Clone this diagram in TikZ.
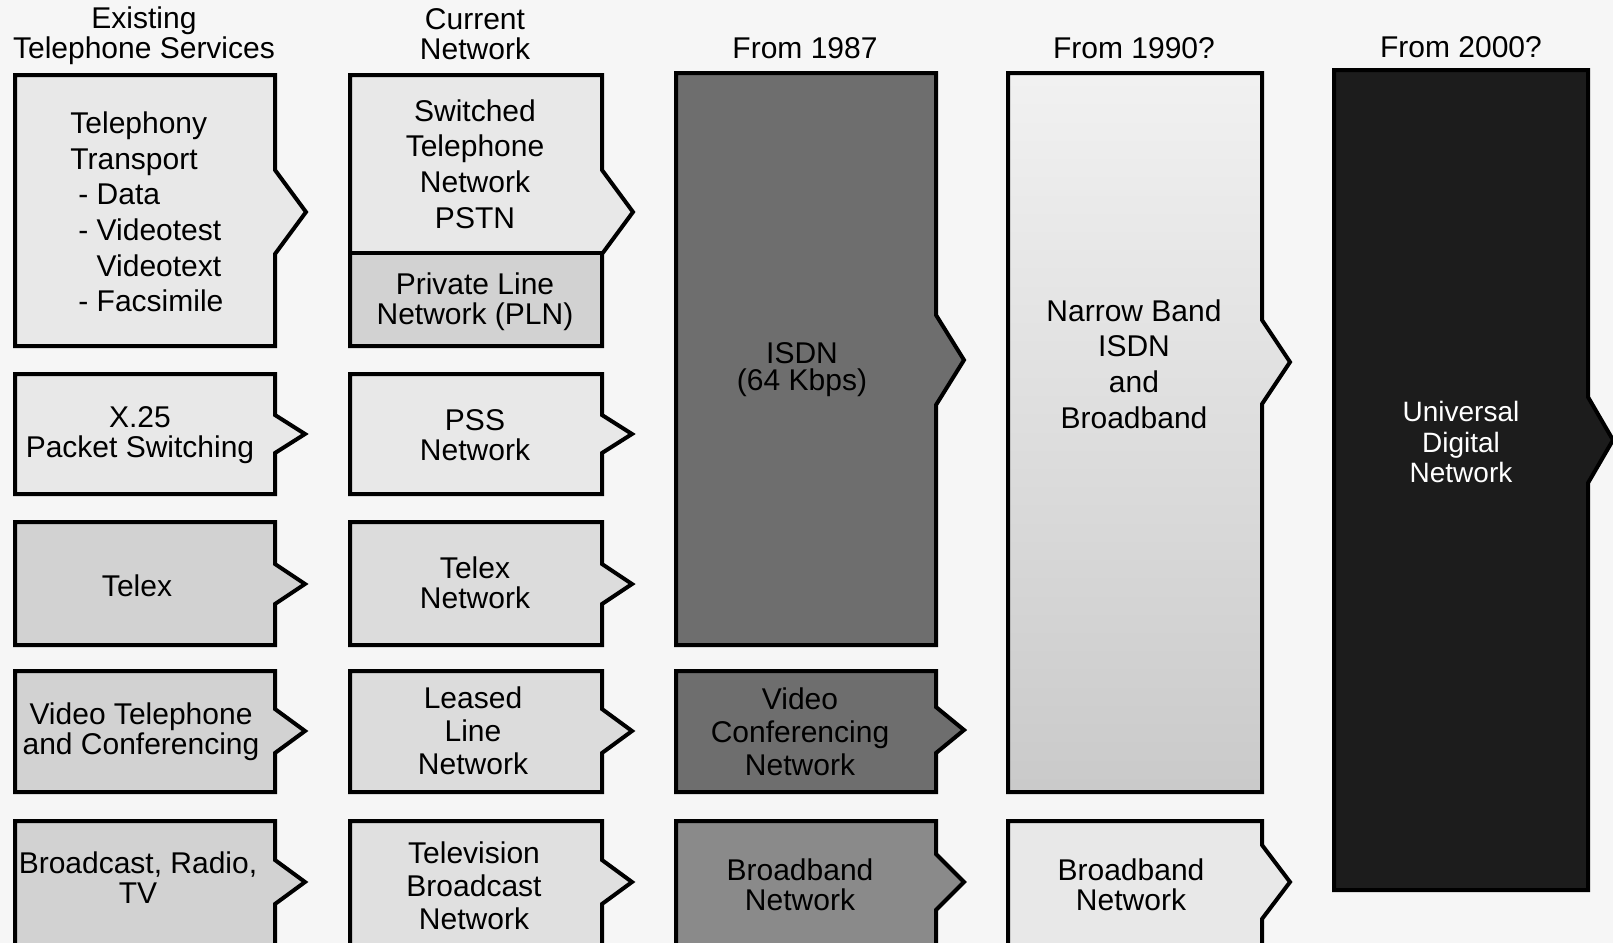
\documentclass[tikz,border=0pt]{standalone}
\usepackage{fontspec}
\setmainfont{Liberation Sans}
\usetikzlibrary{shadings}

% Box with a triangular tab on its right side:
% #1 left, #2 top, #3 right, #4 bottom, #5 tab centre y, #6 tab half height, #7 tab depth, #8 style
\newcommand\pointbox[8]{%
  \path[box,#8] (#1,#2) -- (#3,#2) -- (#3,{#5-#6}) -- ({#3+#7},#5)
    -- (#3,{#5+#6}) -- (#3,#4) -- (#1,#4) -- cycle;}

\tikzset{
  box/.style={draw=black, line width=2pt, line join=miter},
  lbl/.style={align=center, inner sep=0pt, font=\fontsize{15}{15}\selectfont},
  lbl loose/.style={lbl, font=\fontsize{15}{17.8}\selectfont},
  lbl mid/.style={lbl, font=\fontsize{15}{16.5}\selectfont},
  lbl dense/.style={lbl, font=\fontsize{15}{13.5}\selectfont},
}

\definecolor{paper}{HTML}{F6F6F6}
\definecolor{pale}{HTML}{E8E8E8}
\definecolor{lightg}{HTML}{DCDCDC}
\definecolor{midg}{HTML}{D2D2D2}
\definecolor{darkg}{HTML}{6E6E6E}
\definecolor{slate}{HTML}{8A8A8A}
\definecolor{nearblack}{HTML}{1C1C1C}

\begin{document}
\begin{tikzpicture}[x=0.5pt,y=-0.5pt]
\clip (0,0) rectangle (1613,943);
\fill[paper] (0,0) rectangle (1613,943);

% column headings
\node[lbl] (h1) at (144,36) {Existing\\Telephone Services};
\node[lbl] (h2) at (475,34) {Current\\Network};
\node[lbl] (h3) at (805,48) {From 1987};
\node[lbl] (h4) at (1134,48) {From 1990?};
\node[lbl] (h5) at (1461,47) {From 2000?};

% ---- existing services
\pointbox{15}{75}{275}{346}{212}{42}{31}{fill=pale}
\pointbox{15}{374}{275}{494}{434}{19}{30}{fill=pale}
\pointbox{15}{522}{275}{645}{584}{20}{30}{fill=midg}
\pointbox{15}{671}{275}{792}{731}{22}{30}{fill=midg}
\pointbox{15}{821}{275}{965}{882}{22}{30}{fill=midg}

\node[lbl loose, align=left, anchor=west] (tel) at (70,212)
  {Telephony\\Transport\\\hspace{4pt}- Data\\\hspace{4pt}- Videotest\\\hspace{4pt}\phantom{- }Videotext\\\hspace{4pt}- Facsimile};
\node[lbl] (x25) at (140,435) {X.25\\Packet Switching};
\node[lbl] (tlx) at (137,586) {Telex};
\node[lbl] (vtel) at (141,732) {Video Telephone\\and Conferencing};
\node[lbl] (bcast) at (138,878) {Broadcast, Radio,\\TV};

% ---- current network
\fill[pale] (350,75) -- (602,75) -- (602,170) -- (633,212) -- (602,253) -- (350,253) -- cycle;
\fill[midg] (350,253) rectangle (602,346);
\draw[box] (350,253) -- (602,253);
\pointbox{350}{75}{602}{346}{212}{42}{31}{}
\pointbox{350}{374}{602}{494}{434}{19}{30}{fill=pale}
\pointbox{350}{522}{602}{645}{584}{20}{30}{fill=lightg}
\pointbox{350}{671}{602}{792}{731}{22}{30}{fill=lightg}
\pointbox{350}{821}{602}{965}{882}{22}{30}{fill=lightg!70!pale}

\node[lbl loose] (pstn) at (475,164) {Switched\\Telephone\\Network\\PSTN};
\node[lbl] (pln) at (475,302) {Private Line\\Network (PLN)};
\node[lbl] (pss) at (475,435) {PSS\\Network};
\node[lbl] (tlxnet) at (475,583) {Telex\\Network};
\node[lbl mid] (lln) at (473,731) {Leased\\Line\\Network};
\node[lbl mid] (tvn) at (474,886) {Television\\Broadcast\\Network};

% ---- from 1987
\pointbox{676}{73}{936}{645}{360}{45}{28}{fill=darkg}
\pointbox{676}{671}{936}{792}{730}{23}{28}{fill=darkg}
\pointbox{676}{821}{936}{965}{882}{28}{28}{fill=slate}

\node[lbl dense] (isdn) at (802,370) {ISDN\\(64 Kbps)};
\node[lbl mid] (vcn) at (800,732) {Video\\Conferencing\\Network};
\node[lbl] (bb3) at (800,885) {Broadband\\Network};

% ---- from 1990?
\pointbox{1008}{73}{1262}{792}{362}{42}{28}{top color=pale!60!white, bottom color=midg!90!gray}
\pointbox{1008}{821}{1262}{965}{882}{37}{28}{fill=pale}

\node[lbl loose] (nb) at (1134,364) {Narrow Band\\ISDN\\and\\Broadband};
\node[lbl] (bb4) at (1131,885) {Broadband\\Network};

% ---- from 2000?
\pointbox{1334}{70}{1588}{890}{440}{43}{25}{fill=nearblack}
\node[lbl, text=white, font=\fontsize{14}{15.4}\selectfont] (udn) at (1461,442) {Universal\\Digital\\Network};

\end{tikzpicture}
\end{document}
